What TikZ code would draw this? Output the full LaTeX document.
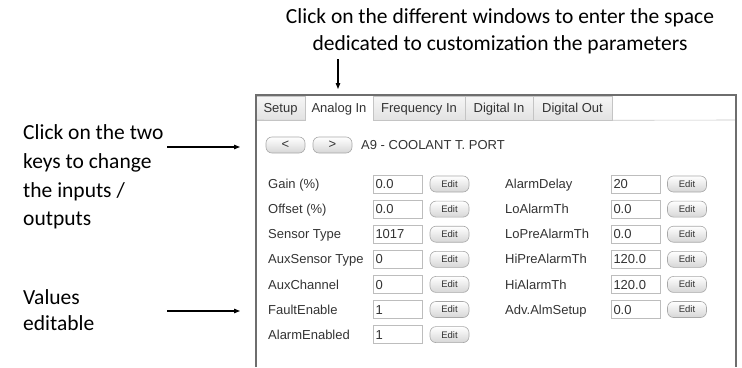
\documentclass[tikz,border=0pt]{standalone}
\usepackage{fontspec}
\setmainfont{Carlito}
\newfontfamily\uifont{Liberation Sans}
\usetikzlibrary{arrows.meta}

\definecolor{uitext}{HTML}{333333}
\definecolor{frameline}{HTML}{6E6E6E}
\definecolor{tabline}{HTML}{C4C4C4}
\definecolor{tabtop}{HTML}{F6F6F6}
\definecolor{tabbot}{HTML}{E2E2E2}
\definecolor{boxline}{HTML}{BDBDBD}
\definecolor{btnline}{HTML}{A8A8A8}
\definecolor{btnbot}{HTML}{D6D6D6}

\begin{document}
\begin{tikzpicture}[x=1pt,y=-1pt,
  note/.style={font=\fontsize{21.5}{27}\selectfont, anchor=base west, inner sep=0pt, text=black},
  pointer/.style={line width=1.1pt, -{Triangle[length=6pt,width=4.5pt]}},
  uifont/.style={font=\uifont\fontsize{13}{15}\selectfont, text=uitext},
  tab/.style={uifont, draw=tabline, line width=0.6pt, top color=tabtop, bottom color=tabbot,
    inner sep=0pt, text height=10pt, text depth=0.7pt},
  activetab/.style={uifont, fill=white, inner sep=0pt, text height=10pt, text depth=0.7pt},
  uilabel/.style={uifont, anchor=base west, inner sep=0pt},
  valbox/.style={uifont, draw=boxline, line width=0.6pt, fill=white, minimum width=49pt, minimum height=18pt,
    text width=44pt, inner xsep=2.5pt, inner ysep=0pt, align=left, text height=10pt, text depth=0.7pt},
  editbtn/.style={draw=btnline, line width=0.6pt, rounded corners=6pt, top color=white, bottom color=btnbot,
    minimum width=39pt, minimum height=16pt, inner sep=0pt, text height=7.3pt, text depth=0.5pt,
    font=\uifont\fontsize{9.5}{11}\selectfont, text=uitext},
  navbtn/.style={uifont, draw=btnline, line width=0.6pt, rounded corners=6pt, top color=white, bottom color=btnbot,
    minimum width=39pt, minimum height=16pt, inner sep=0pt}
]
\useasboundingbox (0,0) rectangle (742,367);

% heading above the panel
\node[note, anchor=base] (head1) at (500,23) {Click on the different windows to enter the space};
\node[note, anchor=base] (head2) at (500,50) {dedicated to customization the parameters};
\coordinate (headtip) at (338,89);
\coordinate (headtail) at (338,59);
\draw[pointer] (headtail) -- (headtip);

% notes on the left
\node[note] (keys1) at (23,139) {Click on the two};
\node[note] (keys2) at (23,168) {keys to change};
\node[note] (keys3) at (23,197) {the inputs /};
\node[note] (keys4) at (23,225) {outputs};
\node[note] (vals1) at (23,304) {Values};
\node[note] (vals2) at (23,330) {editable};
\coordinate (keystail) at (167,147);
\coordinate (keystip) at (240,147);
\coordinate (valstail) at (167,311);
\coordinate (valstip) at (240,311);
\draw[pointer] (keystail) -- (keystip);
\draw[pointer] (valstail) -- (valstip);

% tab strip
\node[tab, minimum width=49pt, minimum height=24pt] (tsetup) at (280.5,108) {Setup};
\node[activetab, minimum width=68pt, minimum height=24pt] (tanalog) at (339,108) {Analog In};
\node[tab, minimum width=92pt, minimum height=24pt] (tfreq) at (419,108) {Frequency In};
\node[tab, minimum width=68pt, minimum height=24pt] (tdigin) at (499,108) {Digital In};
\node[tab, minimum width=79pt, minimum height=24pt] (tdigout) at (572.5,108) {Digital Out};
\draw[tabline, line width=0.6pt] (tanalog.north west) -- (tanalog.south west);
\draw[tabline, line width=0.6pt] (tanalog.north east) -- (tanalog.south east);
\draw[tabline, line width=0.6pt] (tdigout.south east) -- (736,120);
\draw[tabline, line width=0.6pt] (256,120) -- (tsetup.south east);

% panel frame
\draw[frameline, line width=1.6pt] (256,367) -- (256,95) -- (736,95) -- (736,367);

% channel selector
\node[navbtn] (prev) at (285.5,145) {<};
\node[navbtn] (next) at (332.5,145) {>};
\node[uilabel] (chan) at (361,149.6) {A9 - COOLANT T. PORT};

% parameter grid, left column
\foreach \i/\lab/\val in {0/Gain (\%)/0.0, 1/Offset (\%)/0.0, 2/Sensor Type/1017,
    3/AuxSensor Type/0, 4/AuxChannel/0, 5/FaultEnable/1, 6/AlarmEnabled/1}{
  \node[uilabel] (ll\i) at (268,188.6+25.1*\i) {\lab};
  \node[valbox] (lv\i) at (397.5,184+25.1*\i) {\val};
  \node[editbtn] (le\i) at (449.5,184+25.1*\i) {Edit};
}

% parameter grid, right column
\foreach \i/\lab/\val in {0/AlarmDelay/20, 1/LoAlarmTh/0.0, 2/LoPreAlarmTh/0.0,
    3/HiPreAlarmTh/120.0, 4/HiAlarmTh/120.0, 5/Adv.AlmSetup/0.0}{
  \node[uilabel] (rl\i) at (505,188.6+25.1*\i) {\lab};
  \node[valbox] (rv\i) at (635.5,184+25.1*\i) {\val};
  \node[editbtn] (re\i) at (687,184+25.1*\i) {Edit};
}
\end{tikzpicture}
\end{document}
